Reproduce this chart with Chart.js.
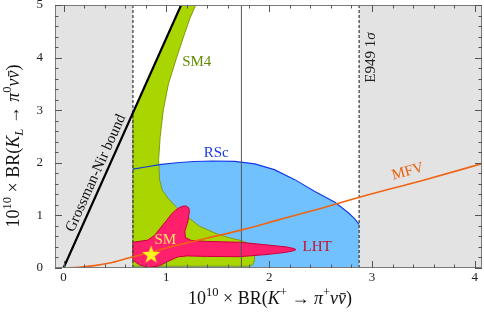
<!DOCTYPE html>
<html>
<head>
<meta charset="utf-8">
<script src="https://cdn.jsdelivr.net/npm/chart.js@4.4.0/dist/chart.umd.min.js"></script>
<style>
  html, body { margin: 0; padding: 0; background: #fff; }
  #wrap { width: 484px; height: 312px; }
</style>
</head>
<body>
<div id="wrap"><canvas id="kaons"></canvas></div>
<script>
// axis ticks (labels only on the major ones)
const xMajor = [0, 1, 2, 3, 4];
const yMajor = [0, 1, 2, 3, 4, 5];

// E949 1 sigma band and central value
const e949Band = [0.675, 2.875];
const e949Central = 1.73;

// Grossman-Nir bound
const grossmanNir = [[0, 0], [1.16, 5.07]];

// MFV curve
const mfvCurve = [[0, 0], [0.15, 0.015], [0.3, 0.045], [0.45, 0.095], [0.63, 0.19], [0.85, 0.3],
  [1.0, 0.38], [1.4, 0.57], [1.745, 0.73], [2.1, 0.92], [2.5, 1.13], [2.87, 1.34], [3.5, 1.67], [4.1, 2.0]];

// Standard Model point
const smPoint = [0.852, 0.266];

// SM4 region
const sm4Region = [[0.675, 0.035], [0.675, 2.95], [1.16, 5.07], [1.30, 5.07], [1.286, 5.0], [1.23, 4.75],
  [1.18, 4.47], [1.10, 4.0], [1.02, 3.5], [0.97, 3.0], [0.94, 2.5], [0.925, 2.06], [0.934, 1.68],
  [0.96, 1.48], [1.015, 1.33], [1.10, 1.15], [1.20, 0.98], [1.325, 0.79], [1.49, 0.65], [1.62, 0.57],
  [1.71, 0.53], [1.78, 0.48], [1.82, 0.43], [1.85, 0.32], [1.86, 0.16], [1.84, 0.06], [1.80, 0.035],
  [0.675, 0.035]];

// RSc upper edge (region runs down to 0 between the E949 edges)
const rscEdge = [[0.675, 1.88], [0.8, 1.92], [0.95, 1.97], [1.1, 2.0], [1.27, 2.025], [1.45, 2.035],
  [1.665, 2.027], [1.86, 1.98], [2.05, 1.87], [2.25, 1.68], [2.44, 1.46], [2.64, 1.25], [2.77, 1.05],
  [2.83, 0.94], [2.875, 0.83]];

// LHT region
const lhtRegion = [[0.675, 0.49], [0.82, 0.53], [0.885, 0.62], [0.95, 0.78], [1.0, 0.9], [1.047, 1.02],
  [1.09, 1.1], [1.128, 1.15], [1.16, 1.175], [1.19, 1.18], [1.215, 1.15], [1.225, 1.09], [1.21, 0.89],
  [1.18, 0.70], [1.185, 0.58], [1.24, 0.525], [1.40, 0.505], [1.71, 0.49], [1.97, 0.44], [2.17, 0.40],
  [2.24, 0.37], [2.26, 0.35], [2.24, 0.33], [2.17, 0.30], [1.97, 0.255], [1.71, 0.215], [1.40, 0.22],
  [1.2, 0.23], [1.11, 0.21], [1.015, 0.125], [0.95, 0.06], [0.917, 0.035], [0.82, 0.01], [0.74, 0.06],
  [0.70, 0.11], [0.675, 0.16], [0.675, 0.49]];

const FONT = '"Liberation Serif", "DejaVu Serif", serif';

const pts = a => a.map(p => ({x: p[0], y: p[1]}));
const near = (v, list) => list.some(m => Math.abs(m - v) < 1e-6);

const leftBand = [[-0.3, 0], [e949Band[0], 0], [e949Band[0], 5.2], [-0.3, 5.2], [-0.3, 0]];
const rightBand = [[e949Band[1], 0], [4.5, 0], [4.5, 5.2], [e949Band[1], 5.2], [e949Band[1], 0]];
const rscRegion = rscEdge.concat([[e949Band[1], 0], [e949Band[0], 0], rscEdge[0]]);

function makeStar(r, color) {
  const c = document.createElement('canvas');
  c.width = c.height = Math.ceil(2 * r + 2);
  const g = c.getContext('2d');
  const cx = c.width / 2, cy = c.height / 2 + r * 0.1;
  g.beginPath();
  for (let i = 0; i < 10; i++) {
    const a = -Math.PI / 2 + i * Math.PI / 5;
    const rr = i % 2 ? r * 0.4 : r;
    g.lineTo(cx + rr * Math.cos(a), cy + rr * Math.sin(a));
  }
  g.closePath();
  g.fillStyle = color;
  g.fill();
  return c;
}

function drawRich(ctx, parts, x, y, angle, size) {
  ctx.save();
  ctx.translate(x, y);
  ctx.rotate(angle);
  const fontFor = p => (p.i ? 'italic ' : '') + (p.s ? size * 0.7 : size) + 'px ' + FONT;
  let total = 0;
  const widths = parts.map(p => {
    ctx.font = fontFor(p);
    const w = ctx.measureText(p.t).width;
    total += w;
    return w;
  });
  let cx = -total / 2;
  ctx.textAlign = 'left';
  ctx.textBaseline = 'alphabetic';
  parts.forEach((p, k) => {
    ctx.font = fontFor(p);
    const dy = p.s === 'sup' ? -size * 0.42 : p.s === 'sub' ? size * 0.22 : 0;
    ctx.fillText(p.t, cx, dy);
    if (p.bar) ctx.fillRect(cx + widths[k] * 0.25, -size * 0.6, widths[k] * 0.7, Math.max(1, size * 0.06));
    cx += widths[k];
  });
  ctx.restore();
}

const xTitle = [{t: '10'}, {t: '10', s: 'sup'}, {t: ' × BR('}, {t: 'K', i: true}, {t: '+', s: 'sup'},
  {t: ' → '}, {t: 'π', i: true}, {t: '+', s: 'sup'}, {t: 'ν', i: true}, {t: 'ν', i: true, bar: true}, {t: ')'}];
const yTitle = [{t: '10'}, {t: '10', s: 'sup'}, {t: ' × BR('}, {t: 'K', i: true}, {t: 'L', i: true, s: 'sub'},
  {t: ' → '}, {t: 'π', i: true}, {t: '0', s: 'sup'}, {t: 'ν', i: true}, {t: 'ν', i: true, bar: true}, {t: ')'}];

const notes = [
  {parts: [{t: 'SM4'}], x: 1.296, y: 3.94, rot: 0, color: '#5f8c00'},
  {parts: [{t: 'RSc'}], x: 1.485, y: 2.21, rot: 0, color: '#1a3ae0'},
  {parts: [{t: 'LHT'}], x: 2.466, y: 0.414, rot: 0, color: '#c4102c'},
  {parts: [{t: 'SM'}], x: 0.99, y: 0.55, rot: 0, color: '#ffe36a'},
  {parts: [{t: 'MFV'}], x: 3.345, y: 1.85, rot: -15.5, color: '#e8600c'},
  {parts: [{t: 'E949 1'}, {t: 'σ', i: true}], x: 2.976, y: 4.0, rot: -90, color: '#222'},
  {parts: [{t: 'Grossman-Nir bound'}], x: 0.306, y: 1.81, rot: -65.8, color: '#111'}
];

const decor = {
  id: 'decor',
  afterDatasetsDraw(chart) {
    const {ctx, chartArea: a, scales: {x, y}} = chart;
    ctx.save();
    // frame
    ctx.strokeStyle = '#7a7a7a';
    ctx.lineWidth = 1;
    ctx.strokeRect(a.left + 0.5, a.top + 0.5, a.right - a.left - 1, a.bottom - a.top - 1);
    // inward ticks on all four sides
    ctx.strokeStyle = '#555';
    ctx.beginPath();
    x.ticks.forEach(t => {
      const px = Math.round(x.getPixelForValue(t.value)) + 0.5;
      const len = near(t.value, xMajor) ? 7 : 3.5;
      ctx.moveTo(px, a.bottom); ctx.lineTo(px, a.bottom - len);
      ctx.moveTo(px, a.top); ctx.lineTo(px, a.top + len);
    });
    y.ticks.forEach(t => {
      const py = Math.round(y.getPixelForValue(t.value)) + 0.5;
      const len = near(t.value, yMajor) ? 7 : 3.5;
      ctx.moveTo(a.left, py); ctx.lineTo(a.left + len, py);
      ctx.moveTo(a.right, py); ctx.lineTo(a.right - len, py);
    });
    ctx.stroke();
    // tick labels
    ctx.fillStyle = '#222';
    ctx.font = '13px ' + FONT;
    ctx.textAlign = 'center';
    ctx.textBaseline = 'top';
    xMajor.forEach(v => ctx.fillText(String(v), x.getPixelForValue(v), a.bottom + 3));
    ctx.textAlign = 'right';
    ctx.textBaseline = 'middle';
    yMajor.forEach(v => ctx.fillText(String(v), a.left - 12, y.getPixelForValue(v)));
    // labels, rotated round their centre
    notes.forEach(n => {
      ctx.fillStyle = n.color;
      const px = x.getPixelForValue(n.x), py = y.getPixelForValue(n.y);
      const ang = n.rot * Math.PI / 180;
      drawRich(ctx, n.parts, px - 5 * Math.sin(ang), py + 5 * Math.cos(ang), ang, 15);
    });
    ctx.restore();
  },
  afterDraw(chart) {
    const {ctx} = chart;
    ctx.save();
    ctx.fillStyle = '#111';
    drawRich(ctx, xTitle, 270, 304, 0, 18);
    drawRich(ctx, yTitle, 19, 146, -Math.PI / 2, 18);
    ctx.restore();
  }
};

const lineBase = {type: 'line', pointRadius: 0, tension: 0, fill: false};

new Chart(document.getElementById('kaons'), {
  type: 'scatter',
  data: {
    datasets: [
      {type: 'scatter', data: pts([smPoint]), pointStyle: makeStar(9.6, '#fff31c'), pointRadius: 10, order: 0},
      {...lineBase, data: pts(mfvCurve), borderColor: '#ef6412', borderWidth: 1.6, cubicInterpolationMode: 'monotone', order: 1},
      {...lineBase, data: pts(grossmanNir), borderColor: '#000', borderWidth: 2.2, order: 2},
      {...lineBase, data: pts([[e949Band[0], 0], [e949Band[0], 5]]), borderColor: '#444', borderWidth: 1.3, borderDash: [3, 2], order: 3},
      {...lineBase, data: pts([[e949Band[1], 0], [e949Band[1], 5]]), borderColor: '#444', borderWidth: 1.3, borderDash: [3, 2], order: 3},
      {...lineBase, data: pts([[e949Central, 0], [e949Central, 5]]), borderColor: '#555', borderWidth: 1, order: 4},
      {...lineBase, data: pts(rscEdge), borderColor: '#1238e6', borderWidth: 1.1, order: 5},
      {...lineBase, data: pts(lhtRegion), borderColor: '#c8003a', borderWidth: 1, backgroundColor: '#ff1f6c', fill: 'shape', order: 6},
      {...lineBase, data: pts(sm4Region), borderColor: '#7f9a12', borderWidth: 1, backgroundColor: '#a9d600', fill: 'shape', order: 7},
      {...lineBase, data: pts(rscRegion), borderWidth: 0, backgroundColor: '#71c1ff', fill: 'shape', order: 8},
      {...lineBase, data: pts(leftBand), borderWidth: 0, backgroundColor: '#e3e3e3', fill: 'shape', order: 9},
      {...lineBase, data: pts(rightBand), borderWidth: 0, backgroundColor: '#e3e3e3', fill: 'shape', order: 9}
    ]
  },
  options: {
    responsive: true,
    maintainAspectRatio: false,
    animation: false,
    events: [],
    layout: {autoPadding: false, padding: {top: 5, right: 2, left: 0, bottom: 0}},
    plugins: {legend: {display: false}, tooltip: {enabled: false}},
    scales: {
      x: {
        type: 'linear', min: -0.083, max: 4.07,
        grid: {display: false, drawTicks: false},
        border: {display: false},
        ticks: {display: false, stepSize: 0.2, autoSkip: false, includeBounds: false},
        afterFit: s => { s.height = 44; }
      },
      y: {
        type: 'linear', min: 0, max: 5,
        grid: {display: false, drawTicks: false},
        border: {display: false},
        ticks: {display: false, stepSize: 0.2, autoSkip: false, includeBounds: false},
        afterFit: s => { s.width = 55; }
      }
    }
  },
  plugins: [decor]
});
</script>
</body>
</html>
